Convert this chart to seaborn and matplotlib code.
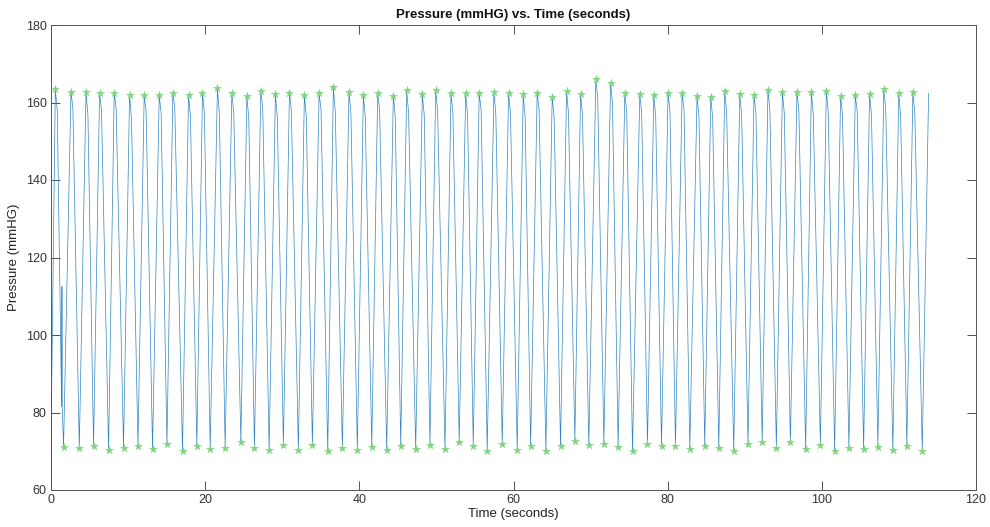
import numpy as np
import pandas as pd
import matplotlib
matplotlib.use("Agg")
import matplotlib.pyplot as plt
import seaborn as sns

# ---- data ----
peak_t = [0.56, 2.59, 4.54, 6.30, 8.20, 10.19, 12.09, 14.04, 15.81, 17.84,
          19.65, 21.59, 23.46, 25.41, 27.22, 29.11, 30.93, 32.87, 34.78, 36.63,
          38.66, 40.52, 42.38, 44.41, 46.14, 48.17, 49.90, 51.89, 53.79, 55.55,
          57.46, 59.36, 61.26, 63.07, 65.02, 66.88, 68.70, 70.68, 72.59, 74.44,
          76.38, 78.20, 80.05, 81.87, 83.81, 85.59, 87.40, 89.35, 91.20, 93.01,
          94.88, 96.77, 98.64, 100.58, 102.43, 104.34, 106.19, 108.04, 109.98, 111.81]
peak_v = [163.4, 162.8, 162.8, 162.4, 162.4, 161.9, 161.9, 161.9, 162.5, 161.9,
          162.5, 163.7, 162.5, 161.7, 163.0, 162.1, 162.5, 161.9, 162.5, 163.9,
          162.8, 161.9, 162.5, 161.7, 163.1, 162.1, 163.2, 162.5, 162.4, 162.5,
          162.8, 162.4, 162.1, 162.5, 161.5, 163.0, 162.2, 166.0, 165.1, 162.4,
          162.2, 161.9, 162.5, 162.4, 161.8, 161.5, 163.0, 162.2, 161.9, 163.3,
          162.8, 162.8, 162.8, 163.0, 161.7, 161.9, 162.2, 163.4, 162.4, 162.8]
notch_v = [158.1, 158.5, 156.8, 158.1, 158.5, 155.9, 157.6, 157.2, 158.5, 156.3,
           157.2, 157.2, 157.2, 155.9, 158.5, 156.3, 158.1, 156.3, 158.1, 157.6,
           157.2, 156.3, 158.1, 156.3, 157.4, 156.8, 158.1, 157.2, 156.8, 158.1,
           156.8, 157.2, 156.3, 158.1, 156.3, 157.2, 156.8, 161.1, 159.8, 157.6,
           157.2, 156.3, 157.6, 158.1, 156.3, 155.9, 157.6, 156.8, 157.2, 158.1,
           157.2, 158.1, 156.8, 157.6, 156.8, 157.6, 156.8, 158.1, 156.3, 157.2]
trough_t = [1.63, 3.67, 5.52, 7.47, 9.41, 11.28, 13.17, 15.04, 17.06, 18.92,
            20.65, 22.59, 24.63, 26.39, 28.30, 30.15, 32.09, 33.91, 35.90, 37.80,
            39.74, 41.61, 43.55, 45.37, 47.31, 49.16, 51.11, 52.96, 54.78, 56.59,
            58.54, 60.48, 62.22, 64.20, 66.10, 67.96, 69.77, 71.72, 73.57, 75.44,
            77.38, 79.20, 81.01, 82.87, 84.81, 86.63, 88.57, 90.42, 92.26, 94.10,
            95.92, 97.90, 99.81, 101.66, 103.51, 105.42, 107.27, 109.21, 111.03, 113.03]
trough_v = [71.2, 70.8, 71.4, 70.3, 70.9, 71.4, 70.6, 71.8, 70.1, 71.4,
            70.6, 70.9, 72.3, 70.9, 70.3, 71.5, 70.3, 71.6, 70.1, 70.8,
            70.3, 71.2, 70.3, 71.4, 70.6, 71.6, 70.6, 72.5, 71.4, 70.1,
            71.9, 70.3, 71.4, 70.1, 71.3, 72.7, 71.5, 72.0, 71.2, 70.1,
            71.8, 71.4, 71.4, 70.6, 71.4, 70.9, 70.1, 71.9, 72.3, 70.9,
            72.3, 70.6, 71.6, 70.1, 70.9, 70.6, 71.2, 70.3, 71.4, 70.1]
start_t, start_v = 0.0, 72.0
end_t, end_v = 113.85, 162.4
glitch_t = [1.38, 1.42, 1.46]
glitch_v = [81.5, 112.5, 81.0]
NOTCH_DELAY = 0.25

# ---- build waveform vertices ----
wt, wv = [start_t], [start_v]
for i in range(len(peak_t)):
    wt += [peak_t[i], peak_t[i] + NOTCH_DELAY]
    wv += [peak_v[i], notch_v[i]]
    if i == 0:
        wt += glitch_t
        wv += glitch_v
    wt.append(trough_t[i])
    wv.append(trough_v[i])
wt.append(end_t)
wv.append(end_v)
wave = pd.DataFrame({"t": wt, "p": wv})
marks = pd.DataFrame({"t": peak_t + trough_t, "p": peak_v + trough_v})

sns.set_style("white")
plt.rcParams["font.family"] = ["Liberation Sans", "DejaVu Sans"]

fig = plt.figure(figsize=(9.9, 5.27), dpi=100)
ax = fig.add_axes([51 / 990, 1 - 490 / 527, (976 - 51) / 990, (490 - 25) / 527])

sns.lineplot(data=wave, x="t", y="p", sort=False, estimator=None, ax=ax,
             color="#2f86c0", linewidth=0.5)
sns.scatterplot(data=marks, x="t", y="p", ax=ax, marker="*", s=38,
                color="#7fd47f", edgecolor="#7fd47f", linewidth=0.2, zorder=3)

ax.set_xlim(0, 120)
ax.set_ylim(60, 180)
ax.set_xticks(np.arange(0, 121, 20))
ax.set_yticks(np.arange(60, 181, 20))
ax.tick_params(direction="in", length=6.5, width=0.6, colors="#333333",
               labelsize=9, top=True, right=True, bottom=True, left=True,
               pad=3)
for sp in ax.spines.values():
    sp.set_color("#555555")
    sp.set_linewidth(0.7)
    sp.set_visible(True)

ax.set_xlabel("Time (seconds)", fontsize=9.5, color="#222222", labelpad=1)
ax.set_ylabel("Pressure (mmHG)", fontsize=9.5, color="#222222", labelpad=4)
ax.set_title("Pressure (mmHG) vs. Time (seconds)", fontsize=9.5,
             fontweight="bold", color="#111111", pad=5)

fig.savefig("out.png", dpi=100)
